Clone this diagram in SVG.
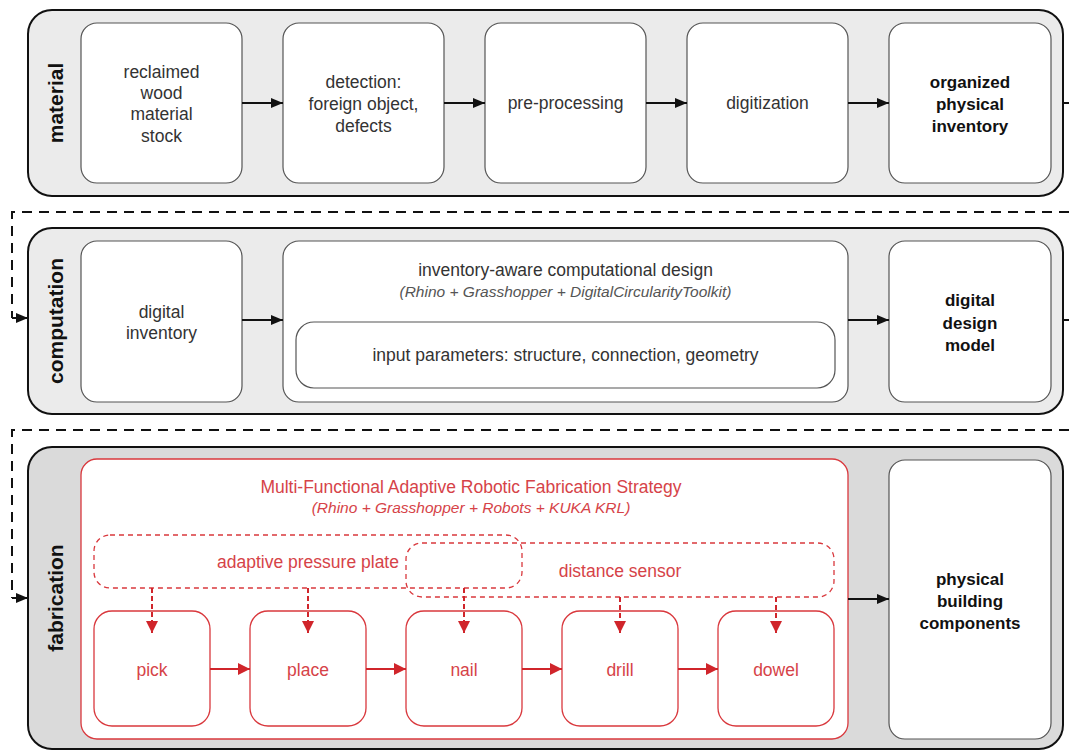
<svg xmlns="http://www.w3.org/2000/svg" width="1069" height="751" viewBox="0 0 1069 751">
<style>
.lane{stroke:#111;stroke-width:2}
.box{fill:#fff;stroke:#555;stroke-width:1.2}
.rbox{fill:#fff;stroke:#d9383d;stroke-width:1.3}
.rdash{fill:none;stroke:#d9383d;stroke-width:1.3;stroke-dasharray:5 4}
.t{font-family:"Liberation Sans",Arial,sans-serif;font-size:17.5px;fill:#333;text-anchor:middle}
.b{font-weight:bold;fill:#111;font-size:17px}
.i{font-style:italic;font-size:15.5px;fill:#555}
.r{fill:#d64348}
.ri{fill:#d64348;font-style:italic;font-size:15.5px}
.lbl{font-family:"Liberation Sans",Arial,sans-serif;font-size:21px;font-weight:bold;fill:#111;text-anchor:middle}
.con{stroke:#111;stroke-width:2;fill:none}
.dash{stroke:#111;stroke-width:2;fill:none;stroke-dasharray:10 7}
.rcon{stroke:#d0252b;stroke-width:2;fill:none}
.rdcon{stroke:#d0252b;stroke-width:2;fill:none;stroke-dasharray:5 3}
</style>
<defs>
<marker id="ah" markerWidth="12" markerHeight="10" refX="12" refY="5" orient="auto" markerUnits="userSpaceOnUse"><path d="M0,0 L12,5 L0,10 Z" fill="#111"/></marker>
<marker id="rah" markerWidth="12" markerHeight="12" refX="12" refY="6" orient="auto" markerUnits="userSpaceOnUse"><path d="M0,0 L12,6 L0,12 Z" fill="#d0252b"/></marker>
</defs>

<g id="lane-material">
<rect class="lane" x="28" y="10" width="1035" height="186" rx="24" fill="#ebebeb"/>
<text class="lbl" x="63" y="103" transform="rotate(-90 63 103)">material</text>
</g>
<g id="lane-computation">
<rect class="lane" x="28" y="228" width="1035" height="186" rx="24" fill="#ebebeb"/>
<text class="lbl" x="63" y="321" transform="rotate(-90 63 321)">computation</text>
</g>
<g id="lane-fabrication">
<rect class="lane" x="28" y="447" width="1035" height="302" rx="24" fill="#dadada"/>
<text class="lbl" x="63" y="598" transform="rotate(-90 63 598)">fabrication</text>
</g>

<g id="n-reclaimed"><rect class="box" x="81" y="23" width="161" height="160" rx="16"/>
<text class="t"><tspan x="161.5" y="78">reclaimed</tspan><tspan x="161.5" y="99">wood</tspan><tspan x="161.5" y="120">material</tspan><tspan x="161.5" y="142">stock</tspan></text></g>
<g id="n-detection"><rect class="box" x="283" y="23" width="161" height="160" rx="16"/>
<text class="t"><tspan x="363.5" y="88">detection:</tspan><tspan x="363.5" y="110">foreign object,</tspan><tspan x="363.5" y="132">defects</tspan></text></g>
<g id="n-preprocessing"><rect class="box" x="485" y="23" width="161" height="160" rx="16"/>
<text class="t" x="565.5" y="109">pre-processing</text></g>
<g id="n-digitization"><rect class="box" x="687" y="23" width="161" height="160" rx="16"/>
<text class="t" x="767.5" y="109">digitization</text></g>
<g id="n-organized"><rect class="box" x="889" y="23" width="162" height="160" rx="16"/>
<text class="t b"><tspan x="970" y="88">organized</tspan><tspan x="970" y="110">physical</tspan><tspan x="970" y="132">inventory</tspan></text></g>

<g id="n-digital-inventory"><rect class="box" x="81" y="241" width="161" height="161" rx="16"/>
<text class="t"><tspan x="161.5" y="318">digital</tspan><tspan x="161.5" y="339">inventory</tspan></text></g>
<g id="n-comp-design"><rect class="box" x="283" y="241" width="565" height="161" rx="16"/>
<text class="t" x="565.5" y="276">inventory-aware computational design</text>
<text class="t i" x="565.5" y="297">(Rhino + Grasshopper + DigitalCircularityToolkit)</text></g>
<g id="n-input-params"><rect class="box" x="296" y="322" width="539" height="66" rx="18"/>
<text class="t" x="565.5" y="361">input parameters: structure, connection, geometry</text></g>
<g id="n-digital-model"><rect class="box" x="889" y="241" width="162" height="161" rx="16"/>
<text class="t b"><tspan x="970" y="306">digital</tspan><tspan x="970" y="329">design</tspan><tspan x="970" y="351">model</tspan></text></g>

<g id="n-strategy"><rect class="rbox" x="81" y="459" width="767" height="280" rx="16"/>
<text class="t r" x="471" y="493">Multi-Functional Adaptive Robotic Fabrication Strategy</text>
<text class="t ri" x="471" y="513">(Rhino + Grasshopper + Robots + KUKA KRL)</text></g>
<g id="n-pressure-plate"><rect class="rdash" x="94" y="535" width="428" height="53" rx="16"/>
<text class="t r" x="308" y="568">adaptive pressure plate</text></g>
<g id="n-distance-sensor"><rect class="rdash" x="406" y="543" width="428" height="54" rx="16"/>
<text class="t r" x="620" y="577">distance sensor</text></g>
<g id="n-pick"><rect class="rbox" x="94" y="611" width="116" height="115" rx="18"/><text class="t r" x="152" y="676">pick</text></g>
<g id="n-place"><rect class="rbox" x="250" y="611" width="116" height="115" rx="18"/><text class="t r" x="308" y="676">place</text></g>
<g id="n-nail"><rect class="rbox" x="406" y="611" width="116" height="115" rx="18"/><text class="t r" x="464" y="676">nail</text></g>
<g id="n-drill"><rect class="rbox" x="562" y="611" width="116" height="115" rx="18"/><text class="t r" x="620" y="676">drill</text></g>
<g id="n-dowel"><rect class="rbox" x="718" y="611" width="116" height="115" rx="18"/><text class="t r" x="776" y="676">dowel</text></g>
<g id="n-physical"><rect class="box" x="889" y="460" width="162" height="279" rx="16"/>
<text class="t b"><tspan x="970" y="585">physical</tspan><tspan x="970" y="607">building</tspan><tspan x="970" y="629">components</tspan></text></g>

<g id="connectors">
<line class="con" x1="242" y1="103" x2="283" y2="103" marker-end="url(#ah)"/>
<line class="con" x1="444" y1="103" x2="485" y2="103" marker-end="url(#ah)"/>
<line class="con" x1="646" y1="103" x2="687" y2="103" marker-end="url(#ah)"/>
<line class="con" x1="848" y1="103" x2="889" y2="103" marker-end="url(#ah)"/>
<line class="con" x1="1063" y1="103" x2="1069" y2="103"/>
<polyline class="dash" points="1069,212 12,212 12,318"/>
<line class="con" x1="12" y1="318" x2="28" y2="318" marker-end="url(#ah)"/>
<line class="con" x1="242" y1="320" x2="283" y2="320" marker-end="url(#ah)"/>
<line class="con" x1="848" y1="320" x2="889" y2="320" marker-end="url(#ah)"/>
<line class="con" x1="1063" y1="320" x2="1069" y2="320"/>
<polyline class="dash" points="1069,430 12,430 12,598"/>
<line class="con" x1="12" y1="598" x2="28" y2="598" marker-end="url(#ah)"/>
<line class="con" x1="848" y1="599" x2="889" y2="599" marker-end="url(#ah)"/>
<line class="rcon" x1="210" y1="669" x2="250" y2="669" marker-end="url(#rah)"/>
<line class="rcon" x1="366" y1="669" x2="406" y2="669" marker-end="url(#rah)"/>
<line class="rcon" x1="522" y1="669" x2="562" y2="669" marker-end="url(#rah)"/>
<line class="rcon" x1="678" y1="669" x2="718" y2="669" marker-end="url(#rah)"/>
<line class="rdcon" x1="152" y1="588" x2="152" y2="633" marker-end="url(#rah)"/>
<line class="rdcon" x1="308" y1="588" x2="308" y2="633" marker-end="url(#rah)"/>
<line class="rdcon" x1="464" y1="588" x2="464" y2="633" marker-end="url(#rah)"/>
<line class="rdcon" x1="620" y1="597" x2="620" y2="633" marker-end="url(#rah)"/>
<line class="rdcon" x1="776" y1="597" x2="776" y2="633" marker-end="url(#rah)"/>
</g>
</svg>
